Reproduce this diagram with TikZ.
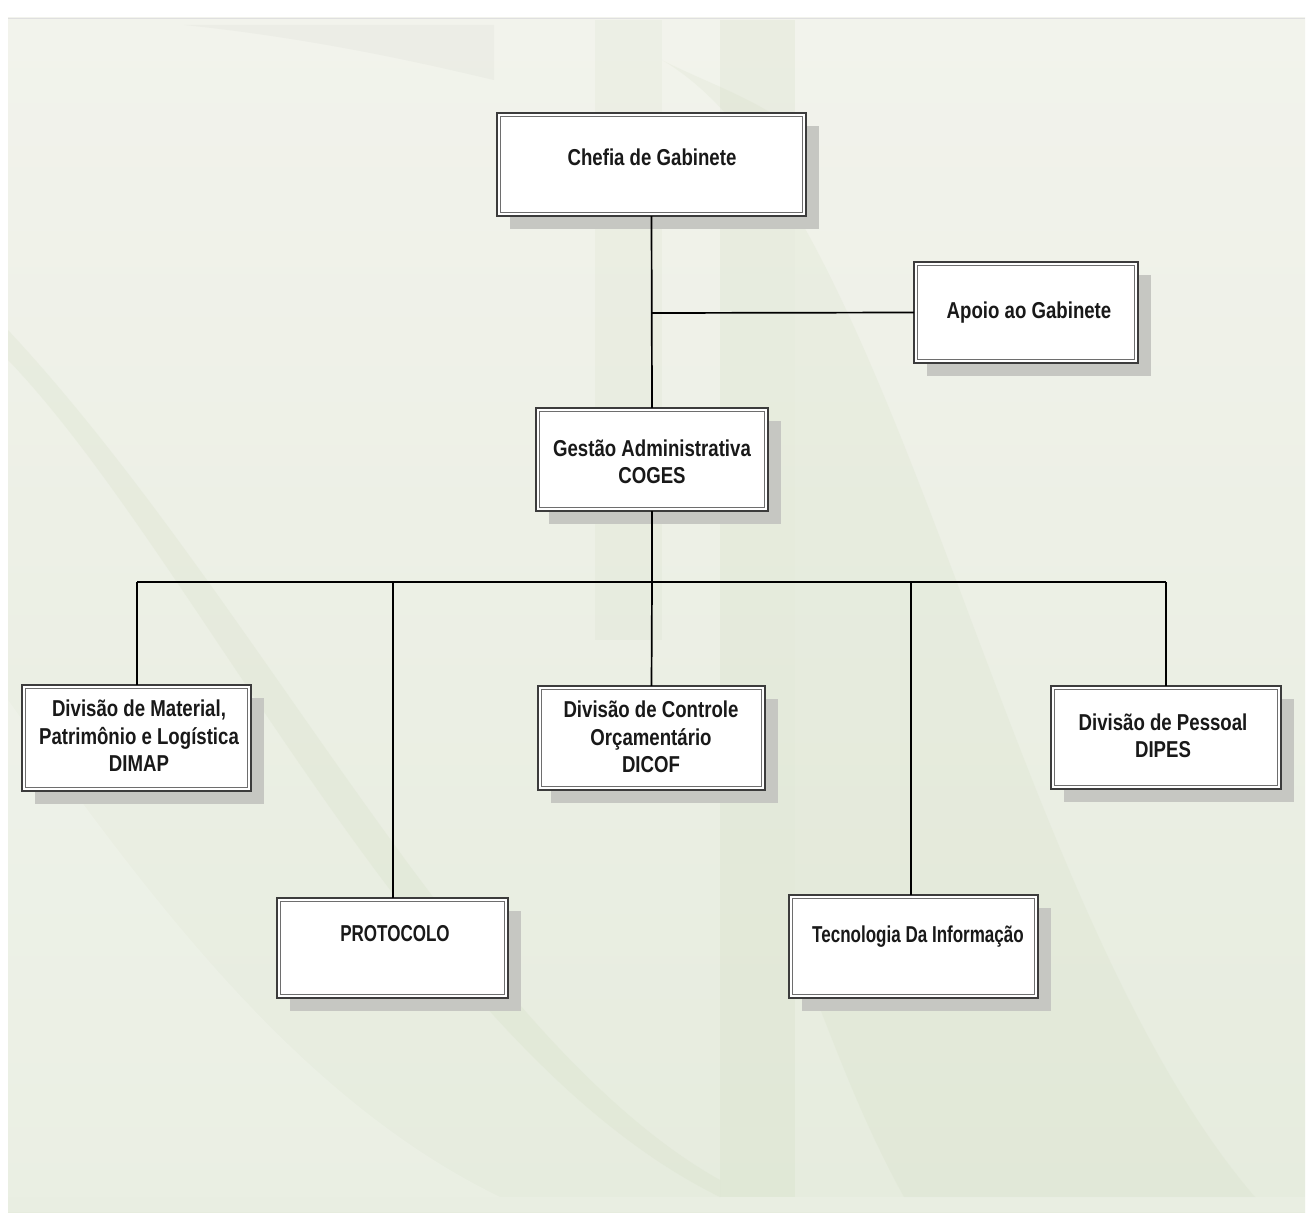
\documentclass[tikz,border=0pt]{standalone}
\usepackage{fontspec}
\setmainfont{Liberation Sans}
\newfontfamily\boxfont{Liberation Sans}[FakeStretch=0.81]
\newfontfamily\boxfontn{Liberation Sans}[FakeStretch=0.74]
\usetikzlibrary{calc}
\definecolor{bgtop}{RGB}{242,243,236}
\definecolor{bgbot}{RGB}{230,236,222}
\definecolor{swoosh}{RGB}{200,214,180}
\definecolor{shadowc}{RGB}{198,199,194}
\definecolor{boxline}{RGB}{60,60,60}
\definecolor{boxinner}{RGB}{110,110,110}
\definecolor{txt}{RGB}{25,25,25}
\tikzset{
  orgbox/.style={fill=white, rectangle, inner sep=0pt},
  outerline/.style={draw=boxline, line width=1.8pt},
  innerline/.style={draw=boxinner, line width=1.1pt},
  orgtext/.style={font=\boxfont\bfseries\fontsize{23}{27.5}\selectfont, text=txt,
    align=center, inner sep=0pt},
  orgtextn/.style={orgtext, font=\boxfontn\bfseries\fontsize{23}{27.5}\selectfont},
  conn/.style={draw=black, line width=1.7pt},
}
\newcommand{\orgnode}[5]{%
  % #1 name, #2 left, #3 top, #4 right, #5 bottom
  \fill[shadowc] (#2+13,#3+13) rectangle (#4+13,#5+13);
  \node[orgbox, minimum width=#4-#2, minimum height=#5-#3] (#1) at ({(#2+#4)/2},{(#3+#5)/2}) {};
  \draw[outerline] (#1.north west) rectangle (#1.south east);
  \draw[innerline] ($(#1.north west)+(3.5,3.5)$) rectangle ($(#1.south east)+(-3.5,-3.5)$);
}
\begin{document}
\begin{tikzpicture}[x=1pt,y=-1pt]
\useasboundingbox (0,0) rectangle (1313,1217);
\fill[white] (0,0) rectangle (1313,1217);
% background frame
\shade[top color=bgtop, bottom color=bgbot] (8,18) rectangle (1305,1212);
\draw[gray!25, line width=1pt] (8,19) -- (1305,19);
\begin{scope}
\clip (8,20) rectangle (1305,1197);
\fill[swoosh, opacity=0.18] (720,20) rectangle (795,1197);
\fill[swoosh, opacity=0.12] (595,20) rectangle (662,640);
\fill[gray, opacity=0.05] (184,25) .. controls (330,40) and (450,70) .. (494,80) -- (494,25) -- cycle;
\fill[swoosh, opacity=0.16] (8,360) .. controls (200,560) and (420,1050) .. (720,1197)
   -- (720,1180) .. controls (470,1040) and (260,600) .. (8,330) -- cycle;
\fill[swoosh, opacity=0.14] (662,60) .. controls (900,200) and (1000,900) .. (1255,1197)
   -- (904,1197) .. controls (850,1100) and (820,1000) .. (795,950) -- (795,130) .. controls (760,100) and (700,80) .. (662,60) -- cycle;
\fill[white, opacity=0.18] (8,700) .. controls (150,900) and (300,1100) .. (500,1197) -- (8,1197) -- cycle;
\end{scope}
\fill[white, opacity=0.15] (8,1197) rectangle (1305,1212);

% boxes
\orgnode{chefia}{497}{113}{806}{216}
\orgnode{apoio}{914}{262}{1138}{363}
\orgnode{coges}{536}{408}{768}{511}
\orgnode{dimap}{22}{685}{251}{791}
\orgnode{dicof}{538}{686}{765}{790}
\orgnode{dipes}{1051}{686}{1281}{789}
\orgnode{protocolo}{277}{898}{508}{998}
\orgnode{ti}{789}{895}{1038}{998}

% texts
\node[orgtext] (chefia-t) at (652,157) {Chefia de Gabinete};
\node[orgtext] (apoio-t) at (1029,313) {Apoio ao Gabinete};
\node[orgtext] (coges-t) at (652,462) {Gestão Administrativa\\COGES};
\node[orgtext] (dimap-t) at (139,736) {Divisão de Material,\\Patrimônio e Logística\\DIMAP};
\node[orgtext] (dicof-t) at (651,737) {Divisão de Controle\\Orçamentário\\DICOF};
\node[orgtext] (dipes-t) at (1163,736) {Divisão de Pessoal\\DIPES};
\node[orgtextn] (protocolo-t) at (395,934) {PROTOCOLO};
\node[orgtextn] (ti-t) at (918,937) {Tecnologia Da Informação};

% connectors
\coordinate (jA) at (652,313);
\coordinate (bus) at (652,582);
\coordinate (busL) at (137,582);
\coordinate (busR) at (1166,582);
\coordinate (busP) at (393,582);
\coordinate (busT) at (911,582);
\draw[conn] (chefia.south) -- (coges.north);
\draw[conn] (jA) -- (apoio.west);
\draw[conn] (coges.south) -- (bus);
\draw[conn] (busL) -- (busR);
\draw[conn] (busL) -- (busL |- dimap.north);
\draw[conn] (busP) -- (busP |- protocolo.north);
\draw[conn] (bus) -- (dicof.north);
\draw[conn] (busT) -- (busT |- ti.north);
\draw[conn] (busR) -- (busR |- dipes.north);
\end{tikzpicture}
\end{document}
